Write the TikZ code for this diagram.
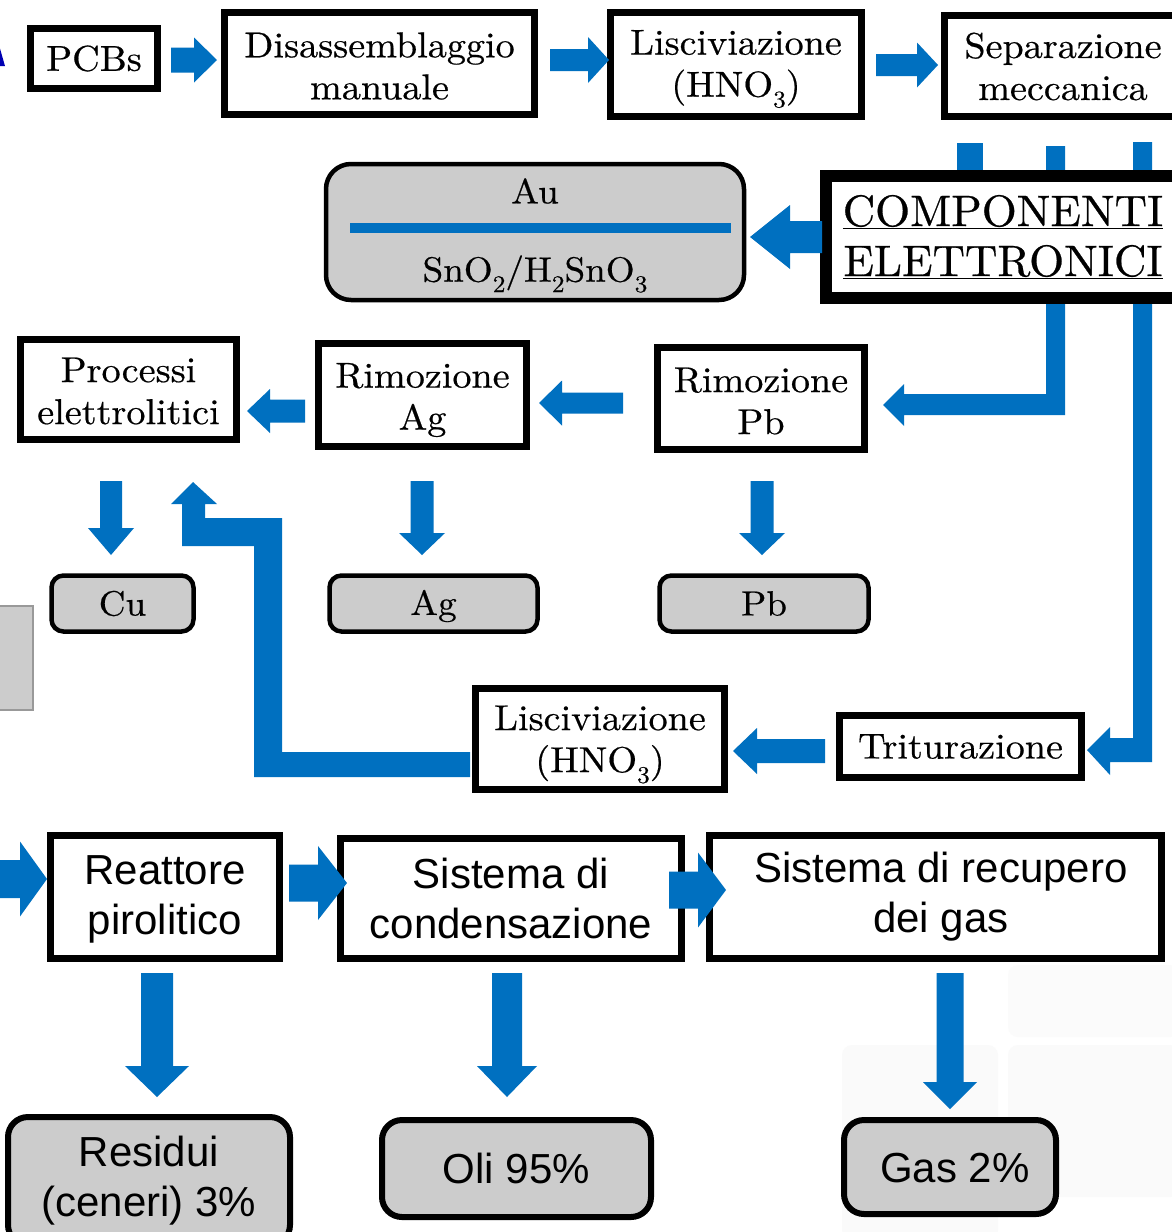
\documentclass[tikz,border=0pt]{standalone}
\usepackage{fontspec}
\setmainfont{lmroman10-regular.otf}[FakeStretch=1.06,FakeBold=0.5]
\newfontfamily\compfont{lmroman10-regular.otf}[FakeStretch=1.02,FakeBold=0.6]
\newfontfamily\arialf{Liberation Sans}
\definecolor{arrowblue}{HTML}{0070C0}
\definecolor{boxgray}{HTML}{CCCCCC}
\newcommand\mysub[1]{\raisebox{-0.7ex}{\fontsize{24}{24}\selectfont #1}}
\newcommand\myHarrow[6]{% x0, xh, x1, yc, sw, hw
  \fill[arrowblue] (#1,{#4-#5/2}) -- (#2,{#4-#5/2}) -- (#2,{#4-#6/2}) -- (#3,#4) -- (#2,{#4+#6/2}) -- (#2,{#4+#5/2}) -- (#1,{#4+#5/2}) -- cycle;}
\newcommand\myVarrow[6]{% y0, yh, y1, xc, sw, hw
  \fill[arrowblue] ({#4-#5/2},#1) -- ({#4-#5/2},#2) -- ({#4-#6/2},#2) -- (#4,#3) -- ({#4+#6/2},#2) -- ({#4+#5/2},#2) -- ({#4+#5/2},#1) -- cycle;}
\begin{document}
\begin{tikzpicture}[x=1pt,y=-1pt,
  serif/.style={font=\fontsize{36}{42}\selectfont},
  sans/.style={font=\arialf\fontsize{42}{50}\selectfont},
  txt/.style={serif,align=center,inner sep=0pt},
  procbox/.style={draw=black,line width=7pt,fill=white,inner sep=0pt,align=center,serif},
  resbox/.style={draw=black,line width=4.5pt,fill=boxgray,rounded corners=12pt,inner sep=0pt,align=center,serif},
  bigbox/.style={draw=black,line width=7pt,fill=white,inner sep=0pt,align=center,sans},
  bigres/.style={draw=black,line width=6pt,fill=boxgray,rounded corners=20pt,inner sep=0pt,align=center,sans}]
\useasboundingbox (0,0) rectangle (1172,1232);
\clip (0,0) rectangle (1172,1232);
\fill[white] (0,0) rectangle (1172,1232);
% faint background tiles
\fill[black!2,rounded corners=10pt] (842,1045) rectangle (998,1240);
\fill[black!2,rounded corners=10pt] (1008,1045) rectangle (1180,1197);
\fill[black!1.5,rounded corners=10pt] (1008,965) rectangle (1180,1037);
% small partial triangle at left edge
\fill[blue!70!black] (-8,66) -- (5,66) -- (-1,45) -- cycle;
% left partial gray box
\filldraw[fill=boxgray,draw=black!40,line width=1.5pt] (-5,606) rectangle (33,710);
% pipes behind COMPONENTI
\fill[arrowblue] (957,143) rectangle (983,180);
\fill[arrowblue] (1046,146) -- (1065,146) -- (1065,415) -- (904,415) -- (904,426) -- (883,405) -- (904,384) -- (904,394) -- (1046,394) -- cycle;
\fill[arrowblue] (1133,142) -- (1152,142) -- (1152,762) -- (1110,762) -- (1110,775) -- (1087,750) -- (1110,727) -- (1110,738) -- (1133,738) -- cycle;
% return pipe to Processi
\fill[arrowblue] (193,482) -- (217,504) -- (205,504) -- (205,518) -- (282,518) -- (282,752) -- (470,752) -- (470,777) -- (254,777) -- (254,546) -- (182,546) -- (182,504) -- (171,504) -- cycle;
% top row
\node[procbox,minimum width=127pt,minimum height=60pt] (pcbs) at (94,58.5) {PCBs};
\node[procbox,minimum width=310pt,minimum height=102pt] (dis) at (379.5,63.5) {};
\node[txt] (distxt) at (379.5,66) {Disassemblaggio\\manuale};
\node[procbox,minimum width=251pt,minimum height=104pt] (lisc1) at (736,64.5) {};
\node[txt] (lisc1txt) at (736,69) {Lisciviazione\\(HNO\mysub{3})};
\node[procbox,minimum width=246pt,minimum height=101pt] (sep) at (1067,65.5) {};
\node[txt] (septxt) at (1063,66.5) {Separazione\\meccanica};
% COMPONENTI
\node[draw=black,line width=12pt,fill=white,inner sep=0pt,align=center,minimum width=354pt,minimum height=122pt,font=\compfont\fontsize{44}{50}\selectfont] (comp) at (1003,237) {\underline{COMPONENTI}\\\underline{ELETTRONICI}};
% Au box
\node[draw=black,line width=4.5pt,fill=boxgray,rounded corners=25pt,minimum width=418pt,minimum height=136pt] (au) at (535,232) {};
\node[font=\fontsize{35}{40}\selectfont] (autxt) at (535,191) {Au};
\node[font=\fontsize{35}{40}\selectfont] (sntxt) at (535,274) {SnO\mysub{2}/H\mysub{2}SnO\mysub{3}};
\draw[arrowblue,line width=10pt] (350,228) -- (731,228);
% middle row
\node[procbox,minimum width=216pt,minimum height=100pt] (proc) at (128.5,389.5) {};
\node[txt] (proctxt) at (128.5,391) {Processi\\elettrolitici};
\node[procbox,minimum width=208pt,minimum height=103pt] (rag) at (422.5,395) {};
\node[txt] (ragtxt) at (422.5,400) {Rimozione\\Ag};
\node[procbox,minimum width=207pt,minimum height=102pt] (rpb) at (761,398.5) {};
\node[txt] (rpbtxt) at (761,401) {Rimozione\\Pb};
% metals
\node[resbox,minimum width=142pt,minimum height=56pt,font=\fontsize{35}{40}\selectfont] (cu) at (122.5,603.5) {Cu};
\node[resbox,minimum width=208pt,minimum height=56pt,font=\fontsize{35}{40}\selectfont] (ag) at (433.5,603.5) {};
\node[font=\fontsize{35}{40}\selectfont,inner sep=0pt] (agtxt) at (433.5,606) {Ag};
\node[resbox,minimum width=209pt,minimum height=56pt,font=\fontsize{35}{40}\selectfont] (pb) at (764,603.5) {Pb};
% lower process row
\node[procbox,minimum width=249pt,minimum height=101pt] (lisc2) at (600,739) {};
\node[txt] (lisc2txt) at (600,744.5) {Lisciviazione\\(HNO\mysub{3})};
\node[procbox,minimum width=242pt,minimum height=62pt] (trit) at (960.5,746.5) {Triturazione};
% pyrolysis row
\node[bigbox,minimum width=229pt,minimum height=123pt] (reat) at (165,897) {};
\node[sans,align=center,inner sep=0pt] (reattxt) at (165,899) {Reattore\\pirolitico};
\node[bigbox,minimum width=341pt,minimum height=120pt] (cond) at (511,898.5) {Sistema di\\condensazione};
\node[bigbox,minimum width=452pt,minimum height=123pt] (recu) at (935.5,897) {};
\node[sans,align=center,inner sep=0pt] (recutxt) at (941,897) {Sistema di recupero\\dei gas};
\node[bigres,minimum width=282pt,minimum height=128pt] (resid) at (149,1181) {Residui\\(ceneri) 3\%};
\node[bigres,minimum width=269pt,minimum height=97pt] (oli) at (516.5,1168.5) {Oli 95\%};
\node[bigres,minimum width=212pt,minimum height=94pt] (gas) at (950,1167) {};
\node[sans,inner sep=0pt] (gastxt) at (955,1168) {Gas 2\%};
% block arrows
\myHarrow{171}{194}{217}{60}{25}{45}
\myHarrow{550}{588}{609}{60}{22}{46}
\myHarrow{876}{917}{938}{65}{22}{45}
\myHarrow{822}{790}{750}{237}{32}{64}
\myHarrow{305}{270}{247}{411}{23}{44}
\myHarrow{623}{562}{539}{403}{21}{45}
\myVarrow{481}{528}{555}{111}{22}{46}
\myVarrow{481}{533}{555}{422}{23}{46}
\myVarrow{481}{533}{555}{762}{23}{46}
\myHarrow{825}{757}{733}{751}{24}{46}
\myHarrow{-5}{20}{47}{879}{38}{75}
\myHarrow{289}{318}{347}{883}{37}{74}
\myHarrow{669}{698}{726}{890}{37}{75}
\myVarrow{973}{1066}{1097}{157}{32}{64}
\myVarrow{973}{1066}{1097}{507}{30}{60}
\myVarrow{973}{1082}{1109}{950}{27}{54}
\end{tikzpicture}
\end{document}
